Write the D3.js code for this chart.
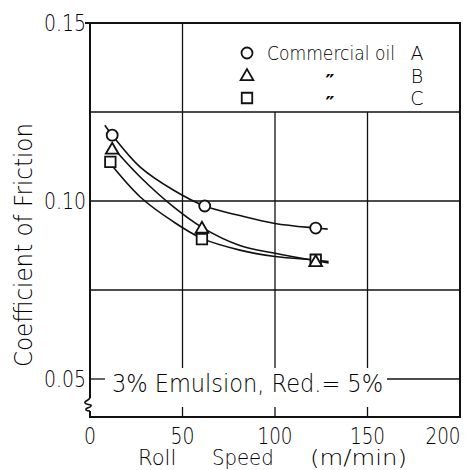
<!DOCTYPE html>
<html>
<head>
<meta charset="utf-8">
<script src="https://cdn.jsdelivr.net/npm/d3@7"></script>
<style>
  body { margin: 0; background: #fff; }
  text { font-family: "DejaVu Sans", sans-serif; font-weight: 200; fill: #000; }
</style>
</head>
<body>
<div id="chart"></div>
<script>
// Data
const speedA = [12, 62, 122];
const frictionA = [0.1185, 0.0986, 0.0924];
const speedB = [12, 60.5, 122];
const frictionB = [0.1146, 0.0924, 0.0830];
const speedC = [11, 60.5, 122];
const frictionC = [0.1110, 0.0893, 0.0835];

// Hand-drawn fit curves
const fitSpeedA = [8, 12, 27, 45, 62, 81, 100, 122, 128.5];
const fitFrictionA = [0.1213, 0.1185, 0.1096, 0.1031, 0.0986, 0.0959, 0.0937, 0.0924, 0.0921];
const fitSpeedB = [11.5, 27, 45, 60.5, 81, 100, 122, 129];
const fitFrictionB = [0.1155, 0.1068, 0.0984, 0.0926, 0.0875, 0.0853, 0.0832, 0.0826];
const fitSpeedC = [11, 27, 45, 60.5, 81, 100, 122, 129];
const fitFrictionC = [0.1105, 0.1012, 0.0942, 0.0895, 0.0862, 0.0844, 0.0834, 0.0830];

const xTicks = [0, 50, 100, 150, 200];
const yTicks = [0.05, 0.10, 0.15];
const yTickLabels = ["0.05", "0.10", "0.15"];

const W = 465, H = 470;
const pLeft = 90, pRight = 460, pTop = 23, pBottom = 417;

const svg = d3.select("#chart").append("svg")
  .attr("width", W)
  .attr("height", H);

const x = d3.scaleLinear().domain([0, 200]).range([pLeft, pRight]);
const y = d3.scaleLinear().domain([0.05, 0.15]).range([379, pTop]);

const ink = "#111";

// Grid lines
const grid = svg.append("g").attr("stroke", ink).attr("stroke-width", 1.3);
// horizontal at 0.125, 0.10, 0.075
[0.125, 0.10, 0.075].forEach(v => {
  grid.append("line")
    .attr("x1", pLeft).attr("x2", pRight)
    .attr("y1", y(v)).attr("y2", y(v));
});
// 0.05 line is interrupted by the note
grid.append("line").attr("x1", pLeft).attr("x2", 105).attr("y1", y(0.05)).attr("y2", y(0.05));
grid.append("line").attr("x1", 387).attr("x2", pRight).attr("y1", y(0.05)).attr("y2", y(0.05));
// vertical
grid.append("line").attr("x1", x(50)).attr("x2", x(50)).attr("y1", pTop).attr("y2", 368);
[100, 150].forEach(v => {
  grid.append("line")
    .attr("x1", x(v)).attr("x2", x(v))
    .attr("y1", y(0.125)).attr("y2", 368);
});
// bottom inner ticks
[50, 100, 150].forEach(v => {
  grid.append("line")
    .attr("x1", x(v)).attr("x2", x(v))
    .attr("y1", pBottom - 10).attr("y2", pBottom);
});

// Frame with axis break on the left
const frame = svg.append("g").attr("fill", "none").attr("stroke", ink).attr("stroke-width", 2);
frame.append("path")
  .attr("d", `M${pLeft},398 L${pLeft},${pTop} L${pRight},${pTop} L${pRight},${pBottom} L${pLeft},${pBottom} L${pLeft},411`);
frame.append("path")
  .attr("d", `M${pLeft},398 C${pLeft - 2},401 ${pLeft - 6},401 ${pLeft - 5},403 C${pLeft - 4},405 ${pLeft + 2},404 ${pLeft + 1},406 C${pLeft},408 ${pLeft - 5},408 ${pLeft - 4},410 C${pLeft - 3},411 ${pLeft},411 ${pLeft},411`)
  .attr("stroke-width", 1.6);
frame.append("line").attr("x1", pLeft - 5).attr("x2", pLeft).attr("y1", pTop).attr("y2", pTop);

// Tick labels
svg.append("g").selectAll("text")
  .data(xTicks)
  .join("text")
  .attr("x", (d, i) => x(d) + (i === xTicks.length - 1 ? -17 : 0))
  .attr("y", 444)
  .attr("text-anchor", "middle")
  .attr("font-size", 23)
  .attr("textLength", d => d >= 100 ? 35 : (d >= 10 ? 24 : 12))
  .attr("lengthAdjust", "spacingAndGlyphs")
  .text(d => d);

svg.append("g").selectAll("text")
  .data(yTicks)
  .join("text")
  .attr("x", 86)
  .attr("y", d => y(d) + 8)
  .attr("text-anchor", "end")
  .attr("font-size", 23)
  .attr("textLength", 42)
  .attr("lengthAdjust", "spacingAndGlyphs")
  .text((d, i) => yTickLabels[i]);

// Axis titles
const xTitle = svg.append("text")
  .attr("y", 465)
  .attr("font-size", 21);
[["Roll", 138, 45], ["Speed", 212, 68], ["(m/min)", 310, 97]].forEach(([t, px, len]) => {
  xTitle.append("tspan")
    .attr("x", px)
    .attr("textLength", len)
    .attr("lengthAdjust", "spacingAndGlyphs")
    .text(t + " ");
});

svg.append("text")
  .attr("transform", "translate(32,367) rotate(-90)")
  .attr("font-size", 25)
  .attr("textLength", 244)
  .attr("lengthAdjust", "spacingAndGlyphs")
  .text("Coefficient  of  Friction");

// Note
svg.append("text")
  .attr("x", 112).attr("y", 392)
  .attr("font-size", 24)
  .attr("textLength", 271)
  .attr("lengthAdjust", "spacingAndGlyphs")
  .text("3% Emulsion, Red.= 5%");

// Curves
const line = d3.line()
  .x(d => x(d[0]))
  .y(d => y(d[1]))
  .curve(d3.curveCatmullRom.alpha(0.5));

const fits = [
  d3.zip(fitSpeedA, fitFrictionA),
  d3.zip(fitSpeedB, fitFrictionB),
  d3.zip(fitSpeedC, fitFrictionC)
];
svg.append("g").selectAll("path")
  .data(fits)
  .join("path")
  .attr("d", line)
  .attr("fill", "none")
  .attr("stroke", ink)
  .attr("stroke-width", 1.6);

// Markers
const circle = d3.symbol().type(d3.symbolCircle).size(95);
const tri = d3.symbol().type(d3.symbolTriangle).size(70);
const square = d3.symbol().type(d3.symbolSquare).size(110);

function drawMarkers(xs, ys, sym, dy) {
  svg.append("g").selectAll("path")
    .data(d3.zip(xs, ys))
    .join("path")
    .attr("transform", d => `translate(${x(d[0])},${y(d[1]) + dy})`)
    .attr("d", sym)
    .attr("fill", "#fff")
    .attr("stroke", ink)
    .attr("stroke-width", 1.8);
}
drawMarkers(speedC, frictionC, square, 0);
drawMarkers(speedB, frictionB, tri, 1);
drawMarkers(speedA, frictionA, circle, 0);

// Legend
const legend = svg.append("g");
const legendRows = [
  { sym: circle, label: "Commercial oil", tag: "A" },
  { sym: tri, label: "\u2033", tag: "B" },
  { sym: square, label: "\u2033", tag: "C" }
];
legendRows.forEach((r, i) => {
  const cy = 53 + i * 22.5;
  legend.append("path")
    .attr("transform", `translate(247,${cy + (i === 1 ? 1 : 0)})`)
    .attr("d", r.sym)
    .attr("fill", "#fff")
    .attr("stroke", ink)
    .attr("stroke-width", 1.8);
  if (i === 0) {
    legend.append("text")
      .attr("x", 267).attr("y", cy + 7)
      .attr("font-size", 19)
      .attr("textLength", 128)
      .attr("lengthAdjust", "spacingAndGlyphs")
      .text(r.label);
  } else {
    legend.append("text")
      .attr("x", 330).attr("y", cy + 12)
      .attr("text-anchor", "middle")
      .attr("font-size", 20)
      .style("font-weight", 700)
      .text(r.label);
  }
  legend.append("text")
    .attr("x", 417).attr("y", cy + 7)
    .attr("text-anchor", "middle")
    .attr("font-size", 19)
    .text(r.tag);
});
</script>
</body>
</html>
